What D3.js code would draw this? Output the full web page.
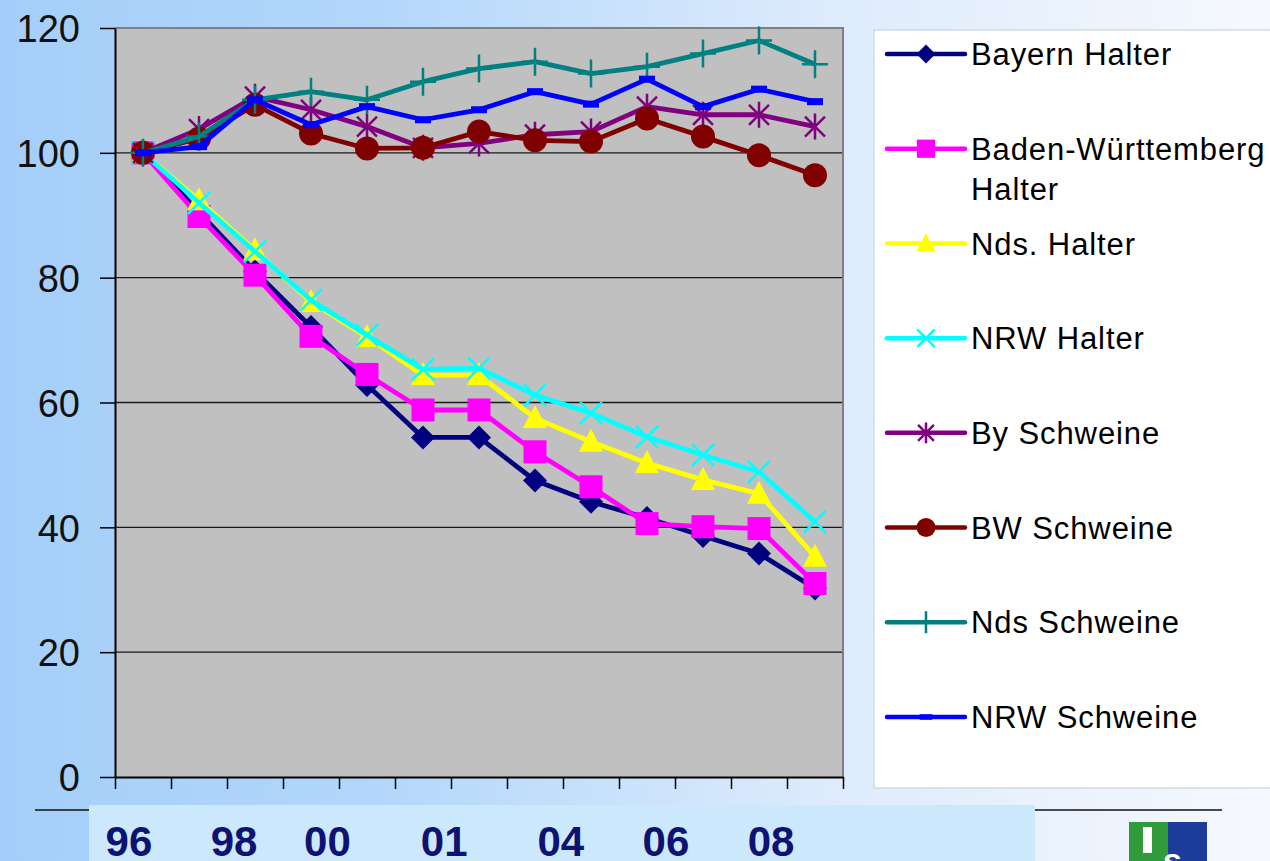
<!DOCTYPE html>
<html>
<head>
<meta charset="utf-8">
<script src="https://cdn.jsdelivr.net/npm/d3@7/dist/d3.min.js"></script>
<style>
  html, body { margin: 0; padding: 0; background: #fff; }
  svg { display: block; }
</style>
</head>
<body>
<svg id="chart" width="1270" height="861"></svg>
<script>
// Index development of holders (Halter) and pig numbers (Schweine), 1996 = 100
const years = ["1996","1997","1998","1999","2000","2001","2002","2003","2004","2005","2006","2007","2008"];
const yTicks = [0, 20, 40, 60, 80, 100, 120];
const yearLabels = ["96", "98", "00", "01", "04", "06", "08"];

const bayernHalter = [100, 90.5, 81.0, 72.1, 62.8, 54.4, 54.4, 47.5, 44.1, 41.5, 38.6, 35.8, 30.2];
const bwHalter     = [100, 89.8, 80.4, 70.6, 64.5, 58.8, 58.8, 52.1, 46.5, 40.6, 40.1, 39.8, 31.0];
const ndsHalter    = [100, 92.4, 84.4, 76.1, 70.5, 64.4, 64.4, 57.5, 53.7, 50.3, 47.6, 45.4, 35.3];
const nrwHalter    = [100, 92.0, 84.2, 76.4, 70.8, 65.3, 65.5, 61.2, 58.3, 54.5, 51.6, 48.9, 40.9];
const bySchweine   = [100, 103.8, 109.0, 106.9, 104.2, 100.8, 101.5, 102.9, 103.4, 107.4, 106.1, 106.1, 104.2];
const bwSchweine   = [100, 102.3, 107.7, 103.1, 100.7, 100.8, 103.4, 102.0, 101.8, 105.5, 102.6, 99.6, 96.4];
const ndsSchweine  = [100, 102.6, 108.5, 109.8, 108.5, 111.4, 113.5, 114.6, 112.7, 113.8, 115.9, 118.0, 114.2];
const nrwSchweine  = [100, 101.0, 108.5, 104.5, 107.4, 105.3, 106.9, 109.8, 107.8, 111.8, 107.4, 110.2, 108.2];

const seriesNames = ["Bayern Halter", "Baden-Württemberg Halter", "Nds. Halter", "NRW Halter",
                     "By Schweine", "BW Schweine", "Nds Schweine", "NRW Schweine"];
const seriesValues = [bayernHalter, bwHalter, ndsHalter, nrwHalter, bySchweine, bwSchweine, ndsSchweine, nrwSchweine];
const seriesColors = ["#000080", "#FF00FF", "#FFFF00", "#00FFFF", "#800080", "#800000", "#008080", "#0000FF"];
const seriesMarkers = ["diamond", "square", "triangle", "x", "star", "circle", "plus", "dash"];

const FONT = "'Liberation Sans', Arial, Helvetica, sans-serif";
const svg = d3.select("#chart");
const W = 1270, H = 861;

// Slide background: light blue fading to white
const defs = svg.append("defs");
const bg = defs.append("linearGradient").attr("id", "bg").attr("x1", 0).attr("x2", 1).attr("y1", 0).attr("y2", 0);
bg.append("stop").attr("offset", "0").attr("stop-color", "#A4CEF9");
bg.append("stop").attr("offset", "0.3").attr("stop-color", "#B3D7FB");
bg.append("stop").attr("offset", "0.65").attr("stop-color", "#DDEBFC");
bg.append("stop").attr("offset", "1").attr("stop-color", "#F6F9FE");
svg.append("rect").attr("width", W).attr("height", H).attr("fill", "url(#bg)");

// Plot geometry
const plot = { left: 115, top: 28, right: 843, bottom: 777 };
const x = d3.scaleBand().domain(years).range([plot.left, plot.right]).paddingInner(0).paddingOuter(0);
const xEdge = d3.scaleLinear().domain([0, years.length]).range([plot.left, plot.right]);
const y = d3.scaleLinear().domain([0, 120]).range([plot.bottom, plot.top]);
const cx = d => x(d) + x.bandwidth() / 2;

// Plot area
svg.append("rect")
  .attr("x", plot.left).attr("y", plot.top)
  .attr("width", plot.right - plot.left).attr("height", plot.bottom - plot.top)
  .attr("fill", "#C0C0C0");

// Horizontal gridlines
svg.append("g").selectAll("line")
  .data(yTicks.filter(t => t > 0 && t < 120))
  .join("line")
  .attr("x1", plot.left).attr("x2", plot.right)
  .attr("y1", d => y(d)).attr("y2", d => y(d))
  .attr("stroke", "#1a1a1a").attr("stroke-width", 1.4);

// Plot border (top and right)
svg.append("path")
  .attr("d", `M${plot.left},${y(120)}H${plot.right}V${plot.bottom}`)
  .attr("fill", "none").attr("stroke", "#808080").attr("stroke-width", 2);

// Y axis
const yAxis = svg.append("g")
  .attr("transform", `translate(${plot.left},0)`)
  .call(d3.axisLeft(y).tickValues(yTicks).tickSize(15).tickSizeOuter(0).tickPadding(20));
yAxis.select(".domain").attr("stroke", "#000").attr("stroke-width", 2);
yAxis.selectAll(".tick line").attr("stroke", "#000").attr("stroke-width", 1.5);
yAxis.selectAll(".tick text")
  .attr("font-family", FONT).attr("font-size", 38).attr("fill", "#111").attr("dy", "0.36em");

// X axis: category boundaries only
const xAxis = svg.append("g")
  .attr("transform", `translate(0,${plot.bottom})`)
  .call(d3.axisBottom(xEdge).tickValues(d3.range(years.length + 1)).tickFormat("").tickSize(12).tickSizeOuter(0));
xAxis.select(".domain").attr("stroke", "#000").attr("stroke-width", 2);
xAxis.selectAll(".tick line").attr("stroke", "#000").attr("stroke-width", 1.5);

// Marker drawing (s = half size in px)
function drawMarker(g, type, color, s) {
  const k = s / 12;
  switch (type) {
    case "diamond":
      g.append("path").attr("d", `M0,${-12*k}L${12*k},0L0,${12*k}L${-12*k},0Z`).attr("fill", color);
      break;
    case "square":
      g.append("rect").attr("x", -11.5*k).attr("y", -11.5*k).attr("width", 23*k).attr("height", 23*k).attr("fill", color);
      break;
    case "triangle":
      g.append("path").attr("d", `M0,${-13*k}L${12*k},${10*k}L${-12*k},${10*k}Z`).attr("fill", color);
      break;
    case "x":
      g.append("path").attr("d", `M${-11*k},${-11*k}L${11*k},${11*k}M${11*k},${-11*k}L${-11*k},${11*k}`)
        .attr("stroke", color).attr("stroke-width", 2.5).attr("fill", "none");
      break;
    case "star":
      g.append("path").attr("d", `M${-10*k},${-10*k}L${10*k},${10*k}M${10*k},${-10*k}L${-10*k},${10*k}M0,${-13*k}L0,${13*k}`)
        .attr("stroke", color).attr("stroke-width", 2.5).attr("fill", "none");
      break;
    case "circle":
      g.append("circle").attr("r", 12*k).attr("fill", color);
      break;
    case "plus":
      g.append("path").attr("d", `M${-13*k},0L${13*k},0M0,${-14*k}L0,${14*k}`)
        .attr("stroke", color).attr("stroke-width", 2.5).attr("fill", "none");
      break;
    case "dash":
      g.append("rect").attr("x", -8*k).attr("y", -3.5*k).attr("width", 16*k).attr("height", 7*k).attr("fill", color);
      break;
  }
}

// Series lines and markers
const line = d3.line().x(d => cx(d.year)).y(d => y(d.value));
const seriesG = svg.append("g");
seriesValues.forEach((vals, i) => {
  const pts = vals.map((v, j) => ({ year: years[j], value: v }));
  const g = seriesG.append("g");
  g.append("path").datum(pts).attr("d", line)
    .attr("fill", "none").attr("stroke", seriesColors[i])
    .attr("stroke-width", 4.8).attr("stroke-linejoin", "round");
  pts.forEach(p => {
    const m = g.append("g").attr("transform", `translate(${cx(p.year)},${y(p.value)})`);
    drawMarker(m, seriesMarkers[i], seriesColors[i], 12);
  });
});

// Legend
const legend = svg.append("g");
legend.append("rect").attr("x", 874).attr("y", 30).attr("width", 430).attr("height", 758)
  .attr("fill", "#fff").attr("stroke", "#C9D3DE").attr("stroke-width", 1.2);
const legendY = d3.scaleLinear().domain([0, seriesNames.length - 1]).range([54, 717]);
seriesNames.forEach((name, i) => {
  const ly = legendY(i);
  const g = legend.append("g").attr("transform", `translate(0,${ly})`);
  g.append("line").attr("x1", 887).attr("x2", 965).attr("y1", 0).attr("y2", 0)
    .attr("stroke", seriesColors[i]).attr("stroke-width", 4.5).attr("stroke-linecap", "round");
  const m = g.append("g").attr("transform", "translate(926,0)");
  drawMarker(m, seriesMarkers[i], seriesColors[i], 9.5);
  const words = name === "Baden-Württemberg Halter" ? ["Baden-Württemberg", "Halter"] : [name];
  const t = g.append("text").attr("x", 971).attr("y", 0)
    .attr("font-family", FONT).attr("font-size", 31).attr("fill", "#000").attr("letter-spacing", 0.9);
  words.forEach((w, k) => {
    t.append("tspan").attr("x", 971).attr("dy", k === 0 ? "0.36em" : 40).text(w);
  });
});

// Footer band with year labels
svg.append("line").attr("x1", 35).attr("x2", 1222).attr("y1", 810).attr("y2", 810)
  .attr("stroke", "#111").attr("stroke-width", 1.5);
svg.append("rect").attr("x", 89).attr("y", 805).attr("width", 946).attr("height", 60).attr("fill", "#CCE8FC");
const yearLabelGaps = [5, 4, 6, 6, 5, 5];
const yearText = yearLabels.map((l, i) => i < yearLabelGaps.length ? l + " ".repeat(yearLabelGaps[i]) : l).join("");
svg.append("text")
  .attr("x", 105.6).attr("y", 856)
  .attr("xml:space", "preserve").style("white-space", "pre")
  .attr("font-family", FONT).attr("font-weight", "bold").attr("font-size", 42)
  .attr("fill", "#0E1270")
  .text(yearText);

// Logo
const logo = svg.append("g").attr("transform", "translate(1129,822)");
logo.append("rect").attr("width", 39).attr("height", 40).attr("fill", "#2F9B3B");
logo.append("rect").attr("x", 39).attr("width", 39).attr("height", 40).attr("fill", "#1C3C9C");
logo.append("rect").attr("x", 14).attr("y", 5).attr("width", 9).attr("height", 26).attr("fill", "#fff");
logo.append("text").attr("x", 34).attr("y", 50).attr("font-family", FONT).attr("font-weight", "bold")
  .attr("font-size", 34).attr("fill", "#fff").text("s");
</script>
</body>
</html>
